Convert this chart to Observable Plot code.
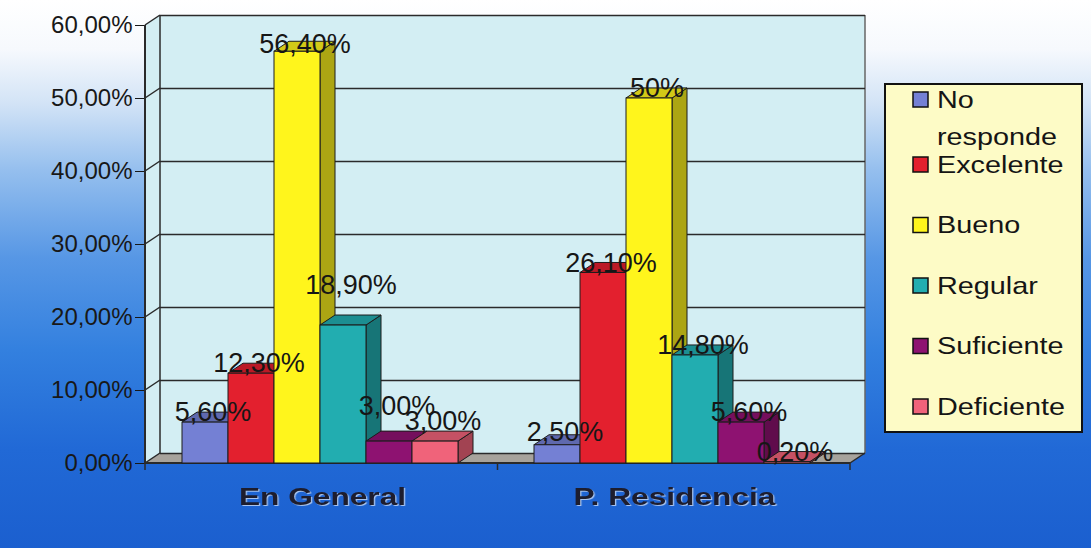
<!DOCTYPE html>
<html lang="es">
<head>
<meta charset="utf-8">
<title>En General / P. Residencia</title>
<script src="https://cdn.jsdelivr.net/npm/d3@7"></script>
<script src="https://cdn.jsdelivr.net/npm/@observablehq/plot@0.6"></script>
<style>
  html, body { margin: 0; padding: 0; }
  body {
    width: 1091px; height: 548px; overflow: hidden; position: relative;
    font-family: "Liberation Sans", Arial, sans-serif;
    background: linear-gradient(to bottom, #ffffff 0%, #f6f9fd 9%, #d2e3f6 19%, #95bfee 31%, #5797e5 47%, #3380df 64%, #2169d6 82%, #1b5fcf 100%);
  }
  #chart { position: absolute; left: 0; top: 0; width: 1091px; height: 548px; }
  #chart > svg { position: absolute; left: 0; top: 0; }
  #legend { position: absolute; left: 884px; top: 83px; }
</style>
</head>
<body>
<div id="chart"></div>
<div id="legend"></div>
<script>
// ---------------- data ----------------
const groups = ["En General", "P. Residencia"];
const series = ["No responde", "Excelente", "Bueno", "Regular", "Suficiente", "Deficiente"];
const enGeneral = [5.6, 12.3, 56.4, 18.9, 3.0, 3.0];
const pResidencia = [2.5, 26.1, 50.0, 14.8, 5.6, 0.2];
const enGeneralLabels = ["5,60%", "12,30%", "56,40%", "18,90%", "3,00%", "3,00%"];
const pResidenciaLabels = ["2,50%", "26,10%", "50%", "14,80%", "5,60%", "0,20%"];
const yTicks = [0, 10, 20, 30, 40, 50, 60];
const yTickLabels = ["0,00%", "10,00%", "20,00%", "30,00%", "40,00%", "50,00%", "60,00%"];
const seriesColors = ["#7480d4", "#e3202e", "#fff51c", "#22adb0", "#8e1271", "#f0637a"];

// ---------------- table built from the arrays ----------------
const valuesByGroup = [enGeneral, pResidencia];
const labelsByGroup = [enGeneralLabels, pResidenciaLabels];
const table = groups.flatMap((g, gi) => series.map((s, si) => ({
  group: g, series: s, value: valuesByGroup[gi][si], label: labelsByGroup[gi][si]
})));

// ---------------- layout / style ----------------
const W = 1091, H = 548;
const M = {top: 25, right: 241, bottom: 85, left: 145};
const DX = 15, DY = -10;            // pseudo-3D depth offset (px)
const wallColor = "#d3eef3";
const floorColor = "#a7a39c";
const lineColor = "#2a2a2a";
const FONT = "'Liberation Sans', Arial, sans-serif";
// some data labels were moved by hand in the original (offset in % points)
const labelLift = new Map([
  ["En General|Regular", 4.2], ["En General|Suficiente", 3.5], ["En General|Deficiente", 1.4],
  ["En General|Bueno", -0.4], ["P. Residencia|No responde", 0.4]
]);

const pts = a => a.map(p => p.join(",")).join(" ");

// walls, floor and front edges of the 3D box, drawn from the y scale
function box(index, scales, values, dim) {
  const y = scales.y;
  const L = dim.marginLeft, R = dim.width - dim.marginRight;
  const y0 = y(0), y1 = y(60);
  const g = d3.create("svg:g");
  g.append("polygon").attr("points", pts([[L, y1], [L + DX, y1 + DY], [L + DX, y0 + DY], [L, y0]])).attr("fill", wallColor);
  g.append("rect").attr("x", L + DX).attr("y", y1 + DY).attr("width", R - L).attr("height", y0 - y1).attr("fill", wallColor);
  g.append("polygon").attr("points", pts([[L, y0], [R, y0], [R + DX, y0 + DY], [L + DX, y0 + DY]])).attr("fill", floorColor);
  const lines = g.append("g").attr("stroke", lineColor).attr("stroke-width", 1.5).attr("fill", "none");
  for (const t of yTicks) lines.append("line").attr("x1", L).attr("y1", y(t)).attr("x2", L + DX).attr("y2", y(t) + DY);
  lines.append("line").attr("x1", L + DX).attr("y1", y1 + DY).attr("x2", L + DX).attr("y2", y0 + DY);
  lines.append("line").attr("x1", R + DX).attr("y1", y1 + DY).attr("x2", R + DX).attr("y2", y0 + DY).attr("stroke", "#666");
  lines.append("line").attr("x1", R).attr("y1", y0).attr("x2", R + DX).attr("y2", y0 + DY);
  lines.append("line").attr("x1", L).attr("y1", y1).attr("x2", L).attr("y2", y0 + 1).attr("stroke-width", 2);
  lines.append("line").attr("x1", L).attr("y1", y0).attr("x2", R).attr("y2", y0).attr("stroke-width", 2);
  for (const x of [L, (L + R) / 2, R]) lines.append("line").attr("x1", x).attr("y1", y0).attr("x2", x).attr("y2", y0 + 7);
  return g.node();
}

const basePlot = Plot.plot({
  width: W, height: H,
  marginTop: M.top, marginRight: M.right, marginBottom: M.bottom, marginLeft: M.left,
  style: {background: "transparent", fontFamily: FONT, fontSize: "24px", color: "#181818", overflow: "visible"},
  y: {domain: [0, 60], ticks: yTicks, tickFormat: d => yTickLabels[yTicks.indexOf(d)], tickSize: 10, tickPadding: 3, label: null},
  marks: [
    box,
    Plot.ruleY(yTicks, {dx: DX, dy: DY, stroke: lineColor, strokeWidth: 1.5})
  ]
});

// 3D faces (side + top) for each bar, drawn in left-to-right order
function bar3d(index, scales, values, dimensions, context, next) {
  const g = next(index, scales, values, dimensions, context);
  const rects = Array.from(g.querySelectorAll("rect"));
  for (const r of rects) {
    const x = +r.getAttribute("x"), y = +r.getAttribute("y");
    const w = +r.getAttribute("width"), h = +r.getAttribute("height");
    const c = d3.color(r.getAttribute("fill"));
    const side = document.createElementNS("http://www.w3.org/2000/svg", "polygon");
    side.setAttribute("points", pts([[x + w, y], [x + w + DX, y + DY], [x + w + DX, y + h + DY], [x + w, y + h]]));
    side.setAttribute("fill", c.darker(1.1).formatHex());
    const top = document.createElementNS("http://www.w3.org/2000/svg", "polygon");
    top.setAttribute("points", pts([[x, y], [x + DX, y + DY], [x + w + DX, y + DY], [x + w, y]]));
    top.setAttribute("fill", c.darker(0.55).formatHex());
    r.parentNode.insertBefore(side, r);
    r.parentNode.insertBefore(top, r);
  }
  return g;
}

const barPlot = Plot.plot({
  width: W, height: H,
  marginTop: M.top, marginRight: M.right, marginBottom: M.bottom, marginLeft: M.left,
  style: {background: "transparent", fontFamily: FONT, overflow: "visible"},
  fx: {domain: groups, padding: 0, axis: null, label: null},
  x: {domain: series, paddingInner: 0, paddingOuter: 0.75, align: 0.47, axis: null, label: null},
  y: {domain: [0, 60], axis: null},
  color: {domain: series, range: seriesColors},
  marks: [
    Plot.barY(table, {fx: "group", x: "series", y: "value", fill: "series", stroke: "#1c1c1c", strokeWidth: 1, render: bar3d}),
    Plot.text(table, {
      fx: "group", x: "series",
      y: d => d.value + (labelLift.get(d.group + "|" + d.series) ?? 0),
      text: "label", dx: DX / 2, dy: DY, fontSize: 27, fill: "#161616"
    }),
    Plot.text(groups, {
      fx: d => d, text: d => d, frameAnchor: "bottom", lineAnchor: "middle", dy: 34,
      fontSize: 24, fontWeight: "bold", fill: "#1d1d2e"
    })
  ]
});

function stretchText(nodes, s) {
  nodes.forEach(t => {
    const x = +(t.getAttribute("x") || 0);
    const tr = t.getAttribute("transform") || "";
    t.setAttribute("transform", `${tr} translate(${x},0) scale(${s},1) translate(${-x},0)`);
    t.style.filter = "drop-shadow(1.5px 1.5px 0 rgba(225,235,250,0.7))";
  });
}
stretchText(Array.from(barPlot.querySelectorAll("text")).filter(t => groups.includes(t.textContent)), 1.32);

const chart = document.getElementById("chart");
chart.appendChild(basePlot);
chart.appendChild(barPlot);

// ---------------- legend ----------------
const LW = 199, LH = 350, TX = 53, SCALE = 1.2;
const leg = d3.select("#legend").append("svg").attr("width", LW).attr("height", LH)
  .style("font-family", FONT).style("font-size", "24px");
leg.append("rect").attr("x", 1).attr("y", 1).attr("width", LW - 2).attr("height", LH - 2)
  .attr("fill", "#fdfbc6").attr("stroke", "#111").attr("stroke-width", 2);
series.forEach((s, i) => {
  const base = i === 0 ? 25 : 90 + (i - 1) * 60.5;
  leg.append("rect").attr("x", 29).attr("y", base - 16).attr("width", 15).attr("height", 15)
    .attr("fill", seriesColors[i]).attr("stroke", "#111").attr("stroke-width", 1.5);
  const t = leg.append("text").attr("x", TX).attr("y", base).attr("fill", "#151515")
    .attr("transform", `translate(${TX},0) scale(${SCALE},1) translate(${-TX},0)`).text(s);
  if (t.node().getComputedTextLength() * SCALE > LW - TX - 6) {
    const words = s.split(" ");
    t.text(null);
    words.forEach((w, k) => t.append("tspan").attr("x", TX).attr("dy", k ? 37 : 0).text(w));
  }
});
</script>
</body>
</html>
